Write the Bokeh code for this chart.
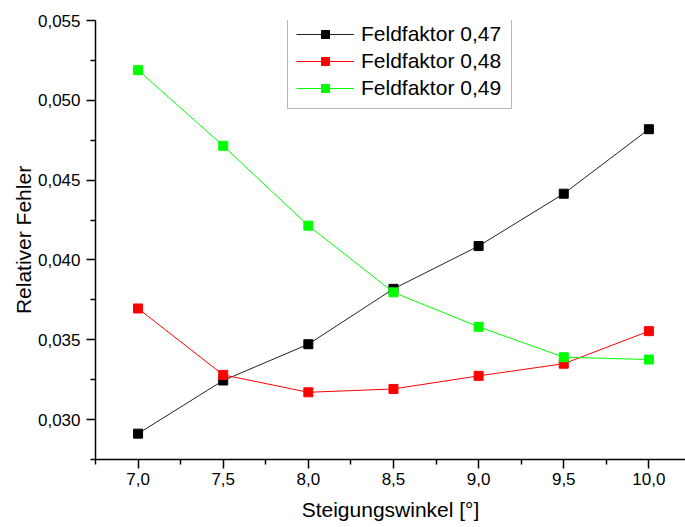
from bokeh.plotting import figure
from bokeh.models import FixedTicker, CustomJSTickFormatter, Range1d, Legend, LegendItem
from bokeh.embed import file_html
from bokeh.resources import INLINE

# ---- data ----
steigungswinkel = [7.0, 7.5, 8.0, 8.5, 9.0, 9.5, 10.0]
fehler_047 = [0.02912, 0.03245, 0.03472, 0.03819, 0.04087, 0.04415, 0.04819]
fehler_048 = [0.03696, 0.03280, 0.03171, 0.03192, 0.03274, 0.03350, 0.03554]
fehler_049 = [0.05189, 0.04715, 0.04215, 0.03797, 0.03581, 0.03391, 0.03376]
series_labels = ["Feldfaktor 0,47", "Feldfaktor 0,48", "Feldfaktor 0,49"]

x_ticks = [7.0, 7.5, 8.0, 8.5, 9.0, 9.5, 10.0]
x_tick_labels = ["7,0", "7,5", "8,0", "8,5", "9,0", "9,5", "10,0"]
x_minor = [6.75, 7.25, 7.75, 8.25, 8.75, 9.25, 9.75]
y_ticks = [0.030, 0.035, 0.040, 0.045, 0.050, 0.055]
y_tick_labels = ["0,030", "0,035", "0,040", "0,045", "0,050", "0,055"]
y_minor = [0.0275, 0.0325, 0.0375, 0.0425, 0.0475, 0.0525]

x_title = "Steigungswinkel [°]"
y_title = "Relativer Fehler"

FONT = "Liberation Sans"

p = figure(width=685, height=527, output_backend="svg", toolbar_location=None,
           x_range=Range1d(6.75, 10.215), y_range=Range1d(0.0275, 0.055),
           min_border_left=95, min_border_right=0, min_border_top=20, min_border_bottom=68)
p.outline_line_color = None
p.xgrid.visible = False
p.ygrid.visible = False
p.background_fill_color = "white"
p.border_fill_color = "white"

series = [
    (fehler_047, "black", "#222222"),
    (fehler_048, "#ff0000", "#ff0000"),
    (fehler_049, "#00ff00", "#00ff00"),
]
items = []
for (vals, mcol, lcol), lab in zip(series, series_labels):
    ln = p.line(steigungswinkel, vals, line_color=lcol, line_width=1)
    sc = p.scatter(steigungswinkel, vals, marker="square", size=9,
                   fill_color=mcol, line_color=mcol, line_width=1)
    items.append(LegendItem(label=lab, renderers=[ln, sc]))

legend = Legend(items=items, location=(192, 350))
legend.label_text_font = FONT
legend.label_text_font_size = "21px"
legend.label_text_color = "black"
legend.glyph_width = 58
legend.glyph_height = 20
legend.label_height = 20
legend.label_width = 142
legend.label_standoff = 7
legend.spacing = 3
legend.padding = 8
legend.margin = 0
legend.border_line_color = "#707070"
legend.border_line_width = 1.5
legend.background_fill_alpha = 1.0
p.add_layout(legend)

for ax in (p.xaxis[0], p.yaxis[0]):
    ax.axis_line_color = "black"
    ax.axis_line_width = 1.5
    ax.major_tick_line_width = 1.5
    ax.minor_tick_line_width = 1.5
    ax.major_tick_in = 0
    ax.major_tick_out = 9
    ax.minor_tick_in = 0
    ax.minor_tick_out = 5
    ax.major_label_text_font = FONT
    ax.major_label_text_font_size = "17px"
    ax.major_label_text_color = "black"
    ax.axis_label_text_font = FONT
    ax.axis_label_text_font_size = "21px"
    ax.axis_label_text_font_style = "normal"
    ax.axis_label_text_color = "black"

fmt_code = """
for (let i = 0; i < tvals.length; i++) {
  if (Math.abs(tvals[i] - tick) < 1e-9) { return tlabels[i]; }
}
return '';
"""
p.xaxis.ticker = FixedTicker(ticks=x_ticks, minor_ticks=x_minor)
p.xaxis.formatter = CustomJSTickFormatter(args=dict(tvals=x_ticks, tlabels=x_tick_labels), code=fmt_code)
p.yaxis.ticker = FixedTicker(ticks=y_ticks, minor_ticks=y_minor)
p.yaxis.formatter = CustomJSTickFormatter(args=dict(tvals=y_ticks, tlabels=y_tick_labels), code=fmt_code)

p.xaxis.axis_label = x_title
p.yaxis.axis_label = y_title
p.xaxis.major_label_standoff = 4
p.yaxis.major_label_standoff = 6
p.xaxis.axis_label_standoff = 10
p.yaxis.axis_label_standoff = 0

open("out.html", "w").write(file_html(p, INLINE))
